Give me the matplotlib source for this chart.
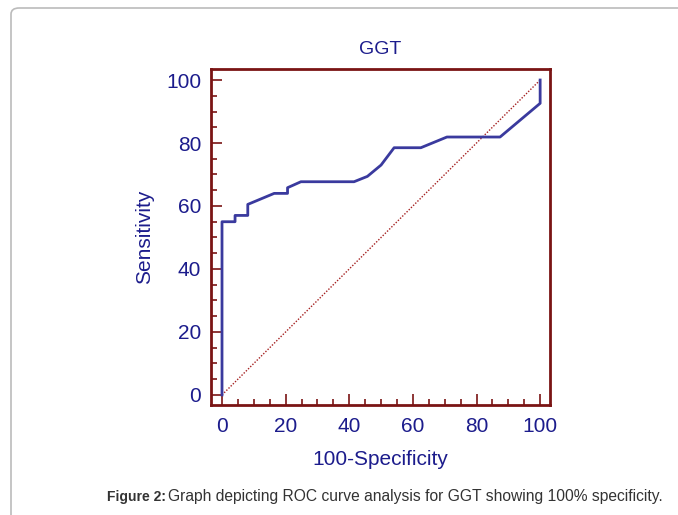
import matplotlib.pyplot as plt
from matplotlib.patches import FancyBboxPatch
from matplotlib.ticker import MultipleLocator

# ROC curve points (100-Specificity, Sensitivity)
fpr = [0, 0, 4.1, 4.1, 8.1, 8.1, 16.4, 20.6, 20.6, 24.8, 41.5, 45.7, 50.0, 54.1, 62.5, 70.7, 87.4, 100, 100]
tpr = [0, 55.0, 55.0, 57.0, 57.0, 60.5, 64.0, 64.0, 65.8, 67.7, 67.7, 69.4, 73.0, 78.5, 78.5, 81.9, 81.9, 92.6, 100]
ref_x = [0, 100]
ref_y = [0, 100]
ticks = [0, 20, 40, 60, 80, 100]

navy = '#1c1c8c'
curve = '#3a3a9e'
frame = '#7a1414'

plt.rcParams['font.family'] = ['Liberation Sans', 'DejaVu Sans']

fig = plt.figure(figsize=(6.78, 5.15), dpi=100)

# rounded page box behind the chart
box = FancyBboxPatch((11 / 678, -0.1), 1.2, (515 - 8) / 515 + 0.1,
                     boxstyle='round,pad=0,rounding_size=0.012',
                     transform=fig.transFigure, facecolor='white',
                     edgecolor='#bbbbbb', linewidth=1.2, zorder=-5)
fig.patches.append(box)

ax = fig.add_axes([211 / 678, 110 / 515, 339 / 678, 336 / 515])
ax.set_facecolor('none')
ax.plot(ref_x, ref_y, linestyle=(0, (1, 1.2)), color='#a52020', linewidth=1.0)
ax.plot(fpr, tpr, color=curve, linewidth=2.0)

ax.set_xlim(-3.46, 103.1)
ax.set_ylim(-3.2, 103.5)
ax.set_xticks(ticks)
ax.set_yticks(ticks)
ax.xaxis.set_minor_locator(MultipleLocator(5))
ax.yaxis.set_minor_locator(MultipleLocator(5))
ax.tick_params(which='major', direction='in', length=8, width=1.2, color=frame,
               labelsize=15, labelcolor=navy, pad=7)
ax.tick_params(axis='x', which='major', pad=9)
ax.tick_params(which='minor', direction='in', length=4.5, width=1.2, color=frame)
ax.tick_params(top=False, right=False, which='both')
for s in ax.spines.values():
    s.set_color(frame)
    s.set_linewidth(2.0)

ax.set_title('GGT', color=navy, fontsize=14, pad=11)
ax.set_xlabel('100-Specificity', color=navy, fontsize=15, labelpad=10)
ax.set_ylabel('Sensitivity', color=navy, fontsize=15, labelpad=9)

fig.text(107 / 678, 1 - 497 / 515, 'Figure 2:', fontsize=10, fontweight='bold',
         color='#333333', va='center', ha='left')
fig.text(168 / 678, 1 - 497 / 515,
         'Graph depicting ROC curve analysis for GGT showing 100% specificity.',
         fontsize=11.25, color='#333333', va='center', ha='left')

fig.savefig('out.png', dpi=100)
